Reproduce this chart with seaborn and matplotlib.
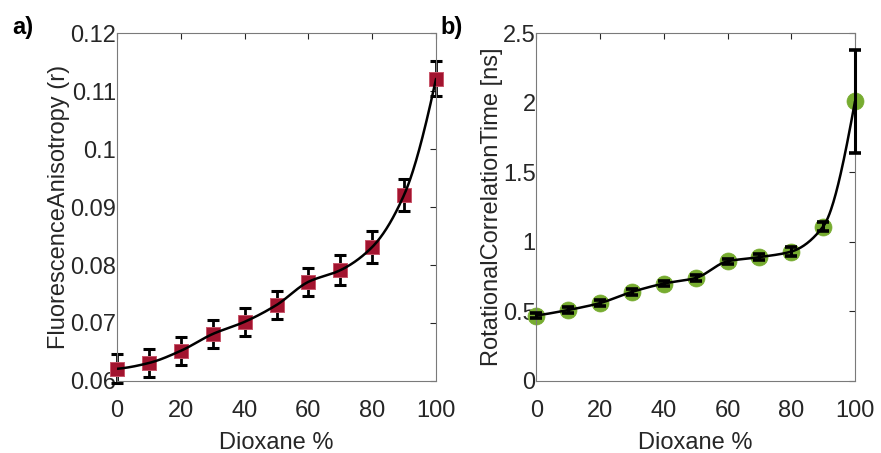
import numpy as np
import pandas as pd
import matplotlib
matplotlib.use("Agg")
import matplotlib.pyplot as plt
import seaborn as sns

# Dioxane content (%) shared by both panels
dioxane = [0, 10, 20, 30, 40, 50, 60, 70, 80, 90, 100]

# a) fluorescence anisotropy and its uncertainty
anisotropy = [0.0621, 0.0631, 0.0652, 0.0681, 0.0702, 0.0731, 0.0771, 0.0791, 0.0831, 0.0921, 0.1121]
anisotropy_err = [0.0025, 0.0025, 0.0024, 0.0024, 0.0024, 0.0024, 0.0024, 0.0026, 0.0028, 0.0027, 0.003]

# b) rotational correlation time (ns) and its uncertainty
corr_time = [0.47, 0.51, 0.56, 0.64, 0.70, 0.74, 0.86, 0.89, 0.93, 1.11, 2.01]
corr_time_err = [0.02, 0.02, 0.02, 0.02, 0.02, 0.02, 0.02, 0.02, 0.03, 0.035, 0.37]


def pchip(x, y, xs):
    """Shape-preserving piecewise cubic Hermite interpolation."""
    x = np.asarray(x, float)
    y = np.asarray(y, float)
    h = np.diff(x)
    delta = np.diff(y) / h
    n = len(x)
    d = np.zeros(n)
    for k in range(1, n - 1):
        if delta[k - 1] * delta[k] > 0:
            w1 = 2 * h[k] + h[k - 1]
            w2 = h[k] + 2 * h[k - 1]
            d[k] = (w1 + w2) / (w1 / delta[k - 1] + w2 / delta[k])
    d0 = ((2 * h[0] + h[1]) * delta[0] - h[0] * delta[1]) / (h[0] + h[1])
    if np.sign(d0) != np.sign(delta[0]):
        d0 = 0
    elif np.sign(delta[0]) != np.sign(delta[1]) and abs(d0) > abs(3 * delta[0]):
        d0 = 3 * delta[0]
    d[0] = d0
    dn = ((2 * h[-1] + h[-2]) * delta[-1] - h[-1] * delta[-2]) / (h[-1] + h[-2])
    if np.sign(dn) != np.sign(delta[-1]):
        dn = 0
    elif np.sign(delta[-1]) != np.sign(delta[-2]) and abs(dn) > abs(3 * delta[-1]):
        dn = 3 * delta[-1]
    d[-1] = dn
    idx = np.clip(np.searchsorted(x, xs) - 1, 0, n - 2)
    t = (xs - x[idx]) / h[idx]
    h00 = 2 * t**3 - 3 * t**2 + 1
    h10 = t**3 - 2 * t**2 + t
    h01 = -2 * t**3 + 3 * t**2
    h11 = t**3 - t**2
    return h00 * y[idx] + h10 * h[idx] * d[idx] + h01 * y[idx + 1] + h11 * h[idx] * d[idx + 1]


sns.set_theme(style="white")
plt.rcParams["font.family"] = ["Liberation Sans", "DejaVu Sans"]

RED = "#A2142F"
GREEN = "#77AC30"
AXC = "#262626"
FS = 17

fig = plt.figure(figsize=(8.81, 4.53), dpi=100)
ax1 = fig.add_axes([0.1328, 0.159, 0.3621, 0.768])
ax2 = fig.add_axes([0.6088, 0.159, 0.3617, 0.768])

xs = np.linspace(0, 100, 400)

# Panel a
df_a = pd.DataFrame({"x": dioxane, "y": anisotropy})
eb = ax1.errorbar(dioxane, anisotropy, yerr=anisotropy_err, fmt="none", ecolor="black",
                  elinewidth=2, capsize=4.2, capthick=2.2, zorder=2)
for art in eb.lines[1] + eb.lines[2]:
    art.set_clip_on(False)
sns.scatterplot(data=df_a, x="x", y="y", marker="s", s=112, color=RED,
                edgecolor="#C8566A", linewidth=0.7, ax=ax1, zorder=3, clip_on=False)
sns.lineplot(x=xs, y=pchip(dioxane, anisotropy, xs), color="black", linewidth=1.8,
             ax=ax1, zorder=4)

# Panel b
df_b = pd.DataFrame({"x": dioxane, "y": corr_time})
sns.scatterplot(data=df_b, x="x", y="y", marker="o", s=150, color=GREEN,
                edgecolor=GREEN, linewidth=0.5, ax=ax2, zorder=2, clip_on=False)
eb = ax2.errorbar(dioxane, corr_time, yerr=corr_time_err, fmt="none", ecolor="black",
                  elinewidth=2.2, capsize=4.3, capthick=2.6, zorder=3)
for art in eb.lines[1] + eb.lines[2]:
    art.set_clip_on(False)
sns.lineplot(x=xs, y=pchip(dioxane, corr_time, xs), color="black", linewidth=1.8,
             ax=ax2, zorder=4)

for ax in (ax1, ax2):
    ax.set_xlim(0, 100)
    ax.set_xticks([0, 20, 40, 60, 80, 100])
    ax.tick_params(direction="in", length=4, width=0.8, colors=AXC, labelsize=FS,
                   top=True, right=True, labelcolor=AXC)
    ax.tick_params(axis="x", pad=14)
    ax.tick_params(axis="y", pad=0.5)
    for sp in ax.spines.values():
        sp.set_color("#7a7a7a")
        sp.set_linewidth(0.8)
    ax.set_xlabel("Dioxane %", fontsize=FS, color=AXC, labelpad=7)

ax1.set_ylim(0.06, 0.12)
ax1.set_yticks([0.06, 0.07, 0.08, 0.09, 0.1, 0.11, 0.12])
ax1.set_yticklabels(["0.06", "0.07", "0.08", "0.09", "0.1", "0.11", "0.12"])
ax1.set_ylabel("FluorescenceAnisotropy (r)", fontsize=FS, color=AXC, labelpad=0)

ax2.set_ylim(0, 2.5)
ax2.set_yticks([0, 0.5, 1, 1.5, 2, 2.5])
ax2.set_yticklabels(["0", "0.5", "1", "1.5", "2", "2.5"])
ax2.set_ylabel("RotationalCorrelationTime [ns]", fontsize=FS, color=AXC, labelpad=0)

fig.text(0.014, 0.925, "a)", fontsize=17, fontweight="bold", color="black")
fig.text(0.500, 0.925, "b)", fontsize=17, fontweight="bold", color="black")

fig.savefig("out.png", dpi=100)
